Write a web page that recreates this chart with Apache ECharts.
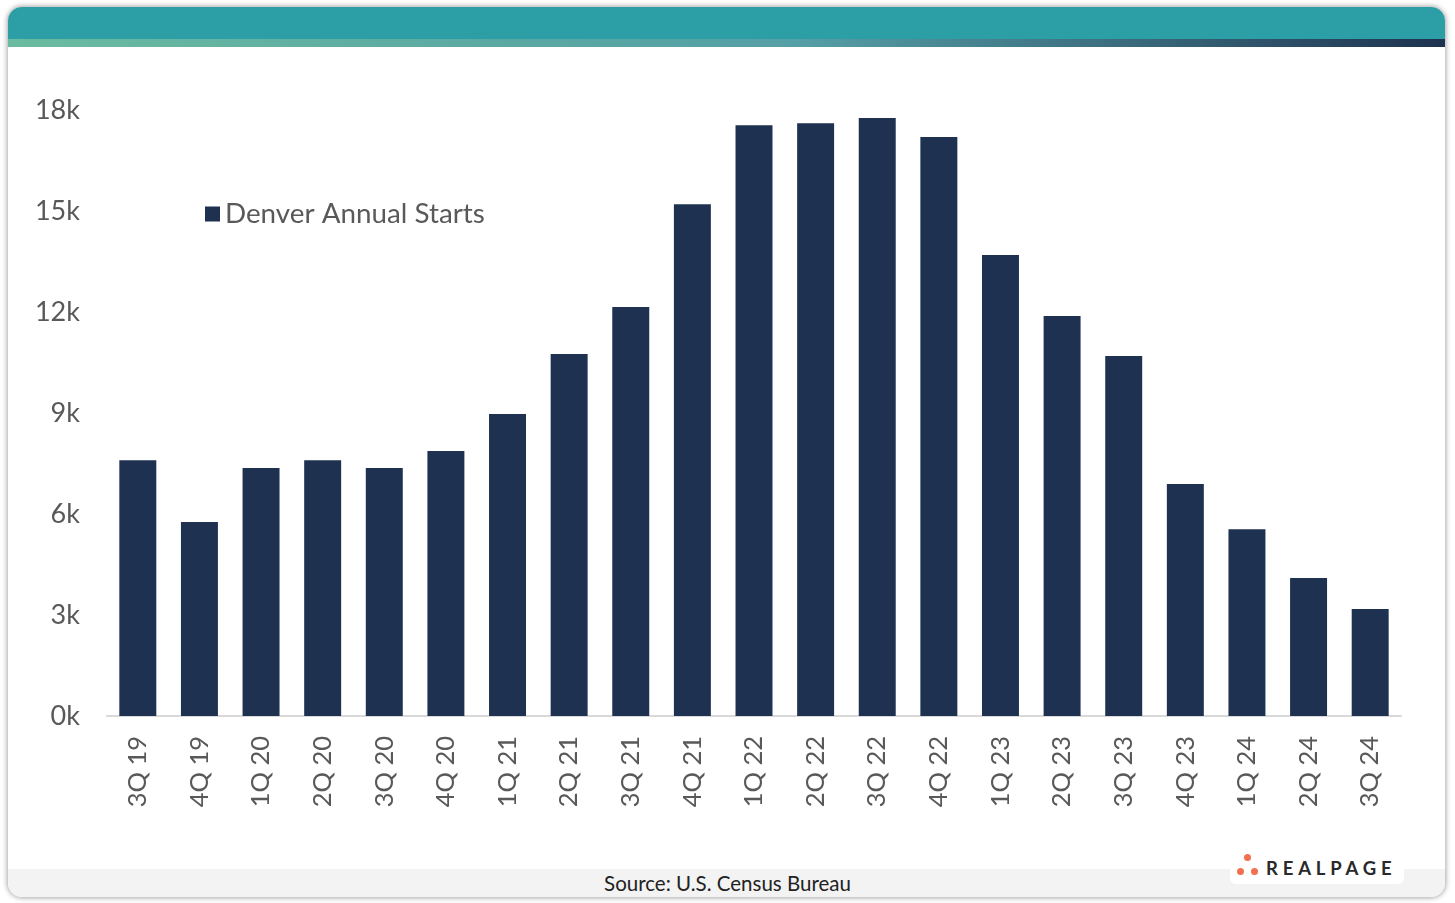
<!DOCTYPE html>
<html>
<head>
<meta charset="utf-8">
<script src="https://cdn.jsdelivr.net/npm/echarts@6/dist/echarts.min.js"></script>
<style>
html,body{margin:0;padding:0;background:#fff;width:1455px;height:903px;overflow:hidden;font-family:Lato,"Open Sans",sans-serif;}
#card{position:absolute;left:8px;top:7px;width:1437px;height:890px;border-radius:14px;background:#fff;box-shadow:0 0 5px 1px rgba(0,0,0,0.35);overflow:hidden;}
#hdr{position:absolute;left:0;top:0;width:100%;height:32px;background:#2C9EA6;}
#grad{position:absolute;left:0;top:32px;width:100%;height:8px;background:linear-gradient(to right,#6BBBA0 0%,#5BA8A3 35%,#559FA6 55%,#3E7282 75%,#1E3250 100%);}
#foot{position:absolute;left:0;top:862px;width:100%;height:28px;background:#F3F3F3;}
#src{position:absolute;left:0;top:871px;width:1455px;text-align:center;font-size:20.5px;color:#222;}
#logo{position:absolute;left:1230px;top:853px;width:174px;height:31px;background:#fff;border-radius:6px;}
.dot{position:absolute;width:7px;height:7px;border-radius:50%;background:#F07050;}
#lt{position:absolute;left:36px;top:4px;font-size:18.5px;font-weight:bold;letter-spacing:4.8px;color:#2a2a2a;}
#chart{position:absolute;left:0;top:0;width:1455px;height:903px;}
</style>
</head>
<body>
<div id="card"><div id="hdr"></div><div id="grad"></div><div id="foot"></div></div>
<div id="src">Source: U.S. Census Bureau</div>
<div id="logo">
  <div class="dot" style="left:14px;top:1px"></div>
  <div class="dot" style="left:7px;top:15px"></div>
  <div class="dot" style="left:21px;top:15px"></div>
  <div id="lt">REALPAGE</div>
</div>
<div id="chart"></div>
<script>
const categories = ["3Q 19","4Q 19","1Q 20","2Q 20","3Q 20","4Q 20","1Q 21","2Q 21","3Q 21","4Q 21","1Q 22","2Q 22","3Q 22","4Q 22","1Q 23","2Q 23","3Q 23","4Q 23","1Q 24","2Q 24","3Q 24"];
const denverStarts = [7600,5760,7370,7600,7370,7870,8970,10750,12150,15200,17550,17610,17760,17200,13690,11880,10690,6890,5550,4100,3180];
const seriesName = "Denver Annual Starts";
const yTicks = {min:0,max:18000,interval:3000};

const chart = echarts.init(document.getElementById('chart'), null, {renderer:'canvas'});
chart.setOption({
  backgroundColor:'transparent',
  animation:false,
  textStyle:{fontFamily:'Lato'},
  legend:{
    left:200, top:195,
    itemWidth:15, itemHeight:15, itemGap:10,
    icon:'rect',
    textStyle:{fontSize:27.8,color:'#595959',fontFamily:'Lato'},
    data:[seriesName]
  },
  grid:{left:107,right:54,top:110,bottom:187,containLabel:false},
  xAxis:{
    type:'category',
    data:categories,
    axisLine:{show:true,lineStyle:{color:'#D9D9D9',width:2}},
    axisTick:{show:false},
    axisLabel:{rotate:90,margin:20,fontSize:25.5,color:'#595959',fontFamily:'Lato'}
  },
  yAxis:{
    type:'value',
    min:yTicks.min,max:yTicks.max,interval:yTicks.interval,
    axisLine:{show:false},axisTick:{show:false},
    splitLine:{show:false},
    axisLabel:{margin:27,fontSize:27,color:'#595959',fontFamily:'Lato',formatter:v=>(v/1000)+'k'}
  },
  series:[{
    name:seriesName,
    type:'bar',
    data:denverStarts,
    barWidth:'60%',
    itemStyle:{color:'#1E3150'}
  }]
});
</script>
</body>
</html>
